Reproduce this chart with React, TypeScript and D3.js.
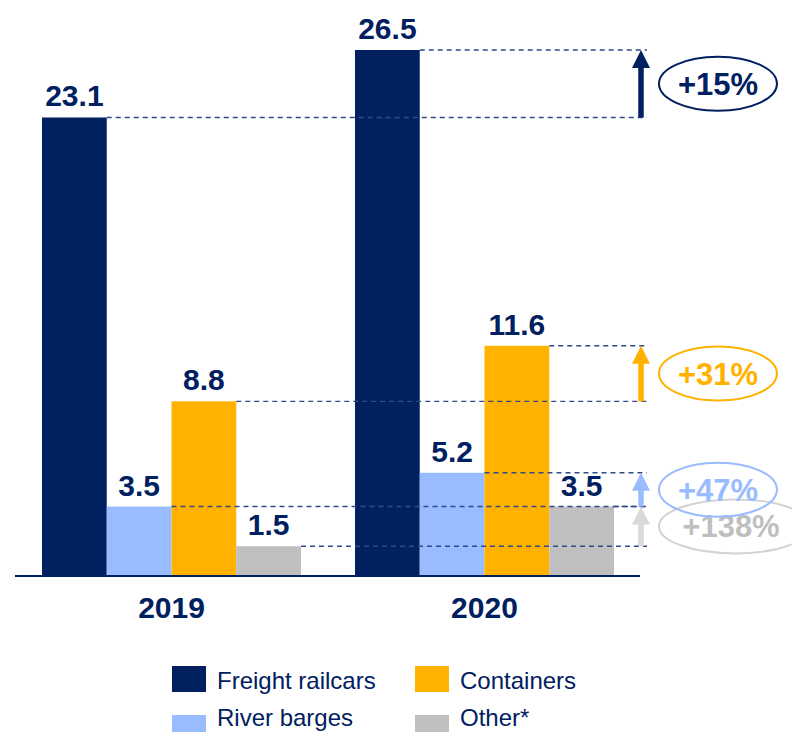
import React from "react";
import * as d3 from "d3";

const years = ["2019", "2020"];
const seriesNames = ["Freight railcars", "River barges", "Containers", "Other*"];
const values2019 = [23.1, 3.5, 8.8, 1.5];
const values2020 = [26.5, 5.2, 11.6, 3.5];
const changeLabels = ["+15%", "+47%", "+31%", "+138%"];
const colors = ["#002060", "#99bbff", "#ffb200", "#bfbfbf"];
const arrowColors = ["#002060", "#99bbff", "#ffb200", "#d9d9d9"];
const ringColors = ["#002060", "#99bbff", "#ffb200", "#d3d3d3"];
const ringTextColors = ["#002060", "#99bbff", "#ffb200", "#bfbfbf"];
const legendOrder = [0, 2, 1, 3];

const FONT = "'Liberation Sans', Arial, Helvetica, sans-serif";

export default function App() {
  const W = 792;
  const H = 732;
  const data = [values2019, values2020];

  const x0 = d3.scaleBand<string>().domain(years).range([42, 614]).paddingInner(0.1725).paddingOuter(0);
  const x1 = d3.scaleBand<string>().domain(seriesNames).range([0, x0.bandwidth()]).padding(0);
  const y = d3.scaleLinear().domain([0, 26.5]).range([576, 50]);

  const dashEnd = 647;
  const arrowX = 641;

  return (
    <svg width={W} height={H} style={{ position: "absolute", left: 0, top: 0, fontFamily: FONT }}>
      {years.map((yr, gi) =>
        seriesNames.map((s, si) => {
          const v = data[gi][si];
          const bx = (x0(yr) as number) + (x1(s) as number);
          return (
            <rect key={yr + s} x={bx} y={y(v)} width={x1.bandwidth()} height={y(0) - y(v)} fill={colors[si]} />
          );
        })
      )}
      {years.map((yr, gi) =>
        seriesNames.map((s, si) => {
          const v = data[gi][si];
          const bx = (x0(yr) as number) + (x1(s) as number) + x1.bandwidth();
          return (
            <line key={"d" + yr + s} x1={bx} x2={dashEnd} y1={y(v)} y2={y(v)} stroke="#2f4b88" strokeWidth={1.4} strokeDasharray="5,4" />
          );
        })
      )}
      <line x1={15} x2={640} y1={576} y2={576} stroke="#002060" strokeWidth={2} />
      {years.map((yr, gi) =>
        seriesNames.map((s, si) => {
          const v = data[gi][si];
          const cx = (x0(yr) as number) + (x1(s) as number) + x1.bandwidth() / 2;
          return (
            <text key={"l" + yr + s} x={cx} y={y(v) - 11} textAnchor="middle" fontSize={30} fontWeight="bold" fill="#002060">
              {v.toFixed(1)}
            </text>
          );
        })
      )}
      {years.map((yr) => (
        <text key={"y" + yr} x={(x0(yr) as number) + x0.bandwidth() / 2} y={618} textAnchor="middle" fontSize={30} fontWeight="bold" fill="#002060">
          {yr}
        </text>
      ))}
      {[3, 1, 2, 0].map((si) => {
        const ya = y(values2019[si]);
        const yb = y(values2020[si]);
        const headLen = 18;
        const headW = 9;
        const label = changeLabels[si];
        const rx = label.length > 4 ? 76 : 59;
        const cx = 659 + rx;
        const cy = (ya + yb) / 2;
        return (
          <g key={"a" + si}>
            <line x1={arrowX} x2={arrowX} y1={ya} y2={yb + headLen - 1} stroke={arrowColors[si]} strokeWidth={5.5} />
            <polygon points={`${arrowX},${yb} ${arrowX - headW},${yb + headLen} ${arrowX + headW},${yb + headLen}`} fill={arrowColors[si]} />
            <ellipse cx={cx} cy={cy} rx={rx} ry={27} fill="none" stroke={ringColors[si]} strokeWidth={2} />
            <text x={label.length > 4 ? cx - 4 : cx} y={cy + 11} textAnchor="middle" fontSize={31} fontWeight="bold" fill={ringTextColors[si]}>
              {label}
            </text>
          </g>
        );
      })}
      {legendOrder.map((si, i) => {
        const col = i % 2;
        const row = Math.floor(i / 2);
        const lx = col === 0 ? 172 : 415;
        const ly = 666 + row * 49;
        const ty = row === 0 ? 689 : 726;
        return (
          <g key={"lg" + si}>
            <rect x={lx} y={ly} width={34} height={26} fill={colors[si]} />
            <text x={lx + 45} y={ty} fontSize={24} fill="#002060">
              {seriesNames[si]}
            </text>
          </g>
        );
      })}
    </svg>
  );
}
